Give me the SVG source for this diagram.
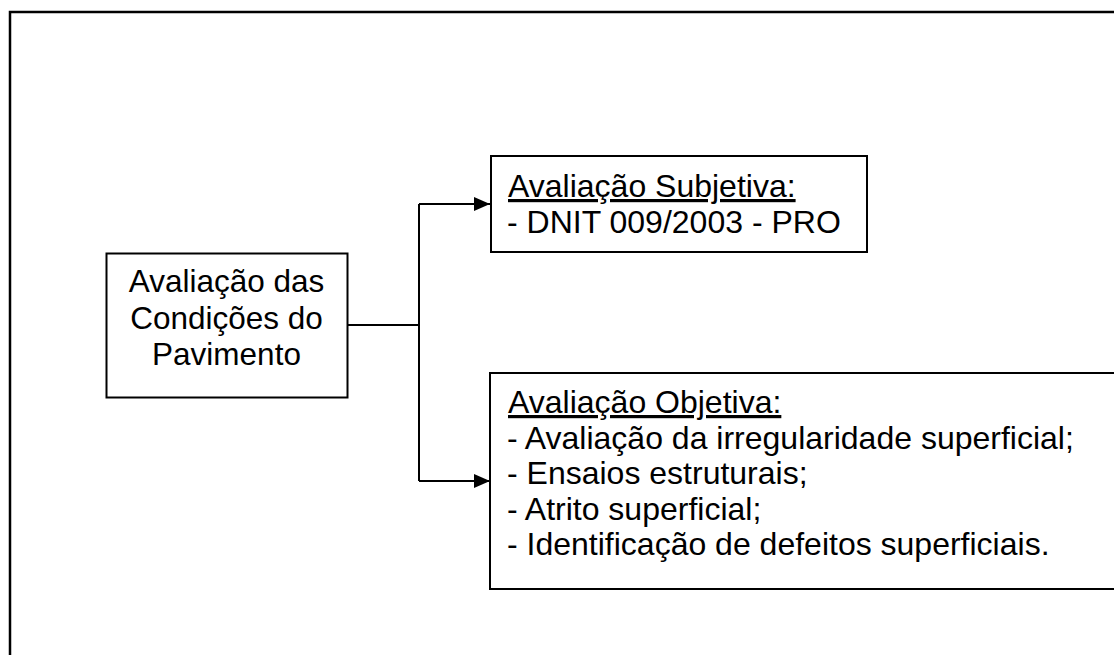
<svg xmlns="http://www.w3.org/2000/svg" width="1114" height="655" viewBox="0 0 1114 655">
<style>
.box{fill:#fff;stroke:#000;stroke-width:2}
.t{font-family:"Liberation Sans",Arial,sans-serif;font-size:32px;fill:#000}
.m{font-family:"Liberation Sans",Arial,sans-serif;font-size:31.5px;fill:#000}
.c{fill:none;stroke:#000;stroke-width:2}
</style>
<defs>
<marker id="ah" markerUnits="userSpaceOnUse" markerWidth="16" markerHeight="14" refX="16" refY="7" orient="auto">
<path d="M0,0 L16,7 L0,14 Z" fill="#000"/>
</marker>
</defs>
<rect width="1114" height="655" fill="#fff"/>
<rect x="10" y="12" width="1200" height="1000" fill="none" stroke="#000" stroke-width="2.5"/>
<g id="connectors">
<path class="c" d="M347,325 H419"/>
<path class="c" d="M419,204 V481"/>
<path class="c" d="M419,204 H490" marker-end="url(#ah)"/>
<path class="c" d="M419,481 H490" marker-end="url(#ah)"/>
</g>
<g id="node-main">
<rect class="box" x="106.5" y="253.5" width="241" height="144"/>
<text class="m" x="226.5" y="292" text-anchor="middle">Avaliação das</text>
<text class="m" x="226.5" y="328.5" text-anchor="middle">Condições do</text>
<text class="m" x="226.5" y="365" text-anchor="middle">Pavimento</text>
</g>
<g id="node-subjetiva">
<rect class="box" x="491" y="156" width="376" height="96"/>
<text class="t" x="508" y="197" text-decoration="underline">Avaliação Subjetiva:</text>
<text class="t" x="507" y="232.5">- DNIT 009/2003 - PRO</text>
</g>
<g id="node-objetiva">
<rect class="box" x="490" y="373" width="700" height="216"/>
<text class="t" x="508" y="413" text-decoration="underline">Avaliação Objetiva:</text>
<text class="t" x="507" y="448.5">- Avaliação da irregularidade superficial;</text>
<text class="t" x="507" y="484">- Ensaios estruturais;</text>
<text class="t" x="507" y="519.5">- Atrito superficial;</text>
<text class="t" x="507" y="555">- Identificação de defeitos superficiais.</text>
</g>
</svg>
